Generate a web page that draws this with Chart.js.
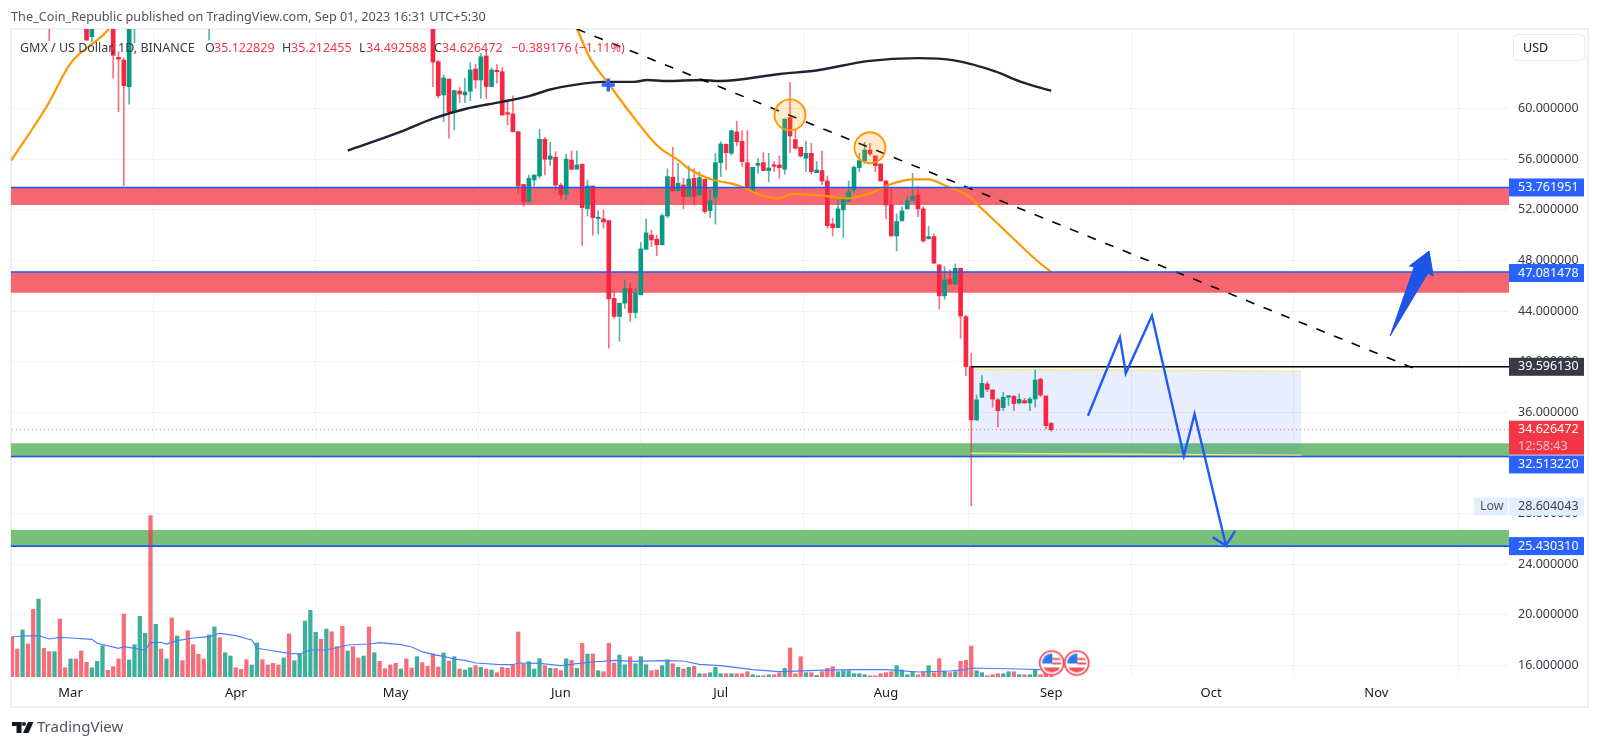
<!DOCTYPE html>
<html>
<head>
<meta charset="utf-8">
<title>GMX / US Dollar</title>
<style>
  html, body { margin: 0; padding: 0; background: #fff; overflow: hidden; }
  #wrap { position: absolute; left: 0; top: 0; width: 1600px; height: 747px; }
</style>
<script src="https://cdn.jsdelivr.net/npm/chart.js@4/dist/chart.umd.min.js"></script>
</head>
<body>
<div id="wrap"><canvas id="chart" width="1600" height="747"></canvas></div>
<script>
// x axis is days since Mar 1 2023
const monthDays = [0, 31, 61, 92, 122, 153, 184, 214, 245];
const monthLabels = ["Mar", "Apr", "May", "Jun", "Jul", "Aug", "Sep", "Oct", "Nov"];
const priceTicks = [16, 20, 24, 28, 32, 36, 40, 44, 48, 52, 56, 60];

// candles whose bodies mostly sit above the top of the pane
const earlyDays = [-4, 3, 4, 8, 9, 10, 11, 12, 26];
const earlyOpens = [70, 68, 65.67, 67, 64.04, 63.83, 61.72, 67, 67];
const earlyHighs = [70, 68, 68, 67, 64.5, 64, 69, 69, 69];
const earlyLows = [65.36, 65.4, 65.27, 62.4, 59.75, 53.9, 60.35, 65.2, 65.4];
const earlyCloses = [68, 65.4, 68, 64.2, 63.9, 61.8, 67, 68, 68];

// daily candles from day 68 to day 184
const firstCandleDay = 68;
const opens = [67.5, 63.7, 61.07, 62.33, 59.73, 61.38, 61.07, 61.36, 63.12, 62.25, 64.15, 61.73, 62.96, 62.91, 59.6, 59.57, 58.17, 54.0, 52.65, 54.36, 54.67, 57.57, 55.99, 56.15, 53.94, 53.25, 55.93, 55.2, 55.6, 52.09, 53.88, 51.3, 51.28, 51.15, 45.0, 43.57, 44.62, 45.78, 43.88, 45.28, 48.88, 50.0, 49.67, 49.23, 51.51, 54.57, 53.49, 53.96, 53.04, 54.49, 53.17, 54.41, 51.93, 52.99, 55.72, 57.17, 56.46, 58.15, 57.41, 55.72, 53.51, 55.51, 55.72, 55.09, 55.5, 55.54, 55.2, 59.28, 57.54, 56.93, 56.07, 56.46, 54.93, 55.09, 54.28, 50.88, 50.59, 51.99, 52.65, 53.57, 55.33, 55.88, 56.72, 56.25, 55.62, 54.28, 52.38, 49.93, 51.12, 52.07, 52.72, 53.17, 52.07, 49.7, 49.88, 47.65, 45.2, 46.51, 46.12, 47.38, 43.55, 39.61, 35.4, 37.19, 38.24, 37.77, 36.98, 36.37, 37.19, 37.27, 36.74, 36.92, 36.74, 37.05, 38.61, 37.29, 35.12];
const highs = [67.5, 63.8, 62.65, 62.33, 61.46, 61.67, 62.38, 63.62, 63.5, 64.36, 64.6, 63.2, 63.46, 63.25, 60.67, 61.0, 58.17, 54.0, 54.75, 54.75, 58.36, 57.73, 57.33, 56.6, 54.1, 56.38, 56.65, 56.65, 55.6, 54.36, 53.88, 51.93, 52.0, 51.15, 45.54, 44.62, 46.46, 46.2, 45.8, 49.41, 51.28, 50.4, 50.0, 51.67, 55.23, 56.94, 55.67, 54.49, 55.46, 55.23, 55.0, 54.41, 53.57, 56.46, 57.38, 57.2, 58.3, 59.0, 58.25, 58.25, 55.36, 56.07, 56.51, 56.46, 55.8, 56.25, 59.17, 62.07, 58.3, 56.93, 57.43, 57.25, 55.8, 56.65, 54.67, 51.33, 52.78, 52.91, 54.28, 55.46, 56.46, 57.33, 57.25, 56.25, 55.62, 54.28, 53.78, 51.67, 52.25, 53.09, 54.88, 53.83, 52.25, 50.67, 50.09, 47.65, 47.51, 47.25, 47.72, 47.38, 43.69, 40.66, 37.37, 38.9, 38.42, 37.77, 37.1, 37.58, 37.32, 37.32, 37.45, 37.1, 37.19, 39.34, 38.71, 37.29, 35.21];
const lows = [61.73, 60.8, 58.96, 57.65, 58.3, 60.46, 60.46, 60.62, 61.6, 60.8, 60.8, 61.7, 62.0, 59.45, 58.7, 58.15, 53.3, 52.3, 52.6, 53.88, 54.49, 54.75, 55.49, 53.57, 52.86, 52.78, 55.15, 55.2, 49.17, 51.5, 50.0, 50.1, 50.54, 41.07, 43.44, 41.6, 44.22, 43.17, 43.44, 45.28, 48.88, 49.1, 48.38, 49.23, 51.38, 53.49, 53.49, 52.07, 53.04, 52.38, 53.17, 51.72, 51.38, 50.86, 54.62, 55.15, 56.33, 57.04, 55.41, 53.78, 53.43, 54.88, 55.09, 54.22, 55.0, 54.49, 54.8, 56.51, 56.78, 56.15, 55.01, 54.83, 54.93, 53.96, 50.54, 49.93, 50.59, 49.8, 52.65, 53.36, 55.0, 55.67, 56.28, 55.0, 54.28, 51.28, 49.93, 48.75, 51.12, 52.07, 52.72, 51.46, 49.43, 49.7, 47.78, 44.14, 44.93, 46.14, 46.12, 41.84, 38.9, 28.6, 35.35, 37.19, 37.63, 36.4, 34.82, 36.13, 36.53, 36.13, 36.66, 36.71, 36.13, 36.4, 37.24, 34.69, 34.49];
const closes = [63.67, 61.0, 62.41, 59.73, 61.41, 61.15, 61.3, 63.04, 62.25, 64.09, 61.73, 63.04, 62.9, 59.49, 59.55, 58.17, 53.88, 52.65, 54.49, 54.75, 57.57, 55.99, 56.25, 53.96, 53.17, 56.0, 55.2, 55.54, 52.17, 53.88, 51.38, 51.33, 51.04, 44.96, 43.57, 44.62, 45.78, 43.88, 45.46, 48.91, 50.17, 49.62, 49.23, 51.54, 54.62, 53.49, 54.1, 53.04, 54.43, 53.04, 54.54, 51.86, 52.72, 55.72, 57.2, 56.51, 58.25, 57.38, 55.8, 53.78, 55.36, 55.67, 55.09, 55.3, 55.43, 55.33, 59.17, 57.83, 56.86, 56.25, 56.46, 55.01, 55.15, 54.28, 50.75, 50.59, 52.07, 52.91, 53.43, 55.36, 55.88, 56.72, 56.41, 55.49, 54.28, 52.38, 49.93, 51.07, 51.91, 52.72, 53.04, 52.07, 49.54, 49.88, 47.78, 45.2, 46.46, 46.14, 47.38, 43.6, 39.61, 35.4, 36.98, 38.29, 37.82, 37.05, 36.13, 37.19, 37.27, 36.69, 37.03, 36.74, 37.05, 38.55, 37.37, 34.95, 34.63];

// volume from day -11 to day 184, values are in pane units
const firstVolumeDay = -11;
const volumes = [40, 28, 47, 33, 67.7, 78, 28.7, 25.3, 25.3, 58, 9.3, 18, 18, 26, 14.7, 9.3, 15.7, 31.3, 6.7, 10.3, 18, 63, 17, 32.3, 60.7, 43.7, 161.3, 52.7, 28, 18, 59, 41, 16.3, 46.3, 32.3, 22.7, 18, 42, 50, 39.3, 24.3, 21, 9.3, 7.7, 17.3, 12, 34, 17.3, 12, 13.7, 12, 19, 43, 16.3, 23.3, 56, 66.7, 44.7, 37.7, 48, 45.3, 30.3, 50.7, 26, 30.3, 19, 21, 50, 24.3, 15.7, 8.3, 12, 13.7, 8, 18, 9, 20.3, 14.3, 10.7, 23.3, 10, 24, 16, 20.3, 8, 7, 9.3, 11.3, 9.7, 8, 7, 4.3, 9.7, 8.7, 11.7, 45, 12.7, 15.3, 8, 18.3, 11.3, 8.7, 8.7, 6.3, 18.3, 16.7, 8.7, 33.7, 23, 23, 6.3, 5.3, 33.7, 14, 22, 12.3, 20.3, 13.3, 20.3, 12.3, 6.3, 7, 11.3, 17.3, 13.3, 9.7, 8, 9.7, 10.7, 3.3, 3.3, 4.3, 9.7, 3.3, 3.3, 3.3, 3.3, 3.3, 5.3, 2.3, 1.3, 1.3, 2.3, 2.3, 4.3, 8.7, 29, 3.3, 20.3, 4.3, 4.3, 1.7, 5.3, 8.7, 10.3, 5.3, 6.3, 6.3, 3.3, 3.3, 2.3, 1.3, 1.3, 3.3, 4.3, 5.3, 11.3, 7, 2.3, 5.3, 2.3, 5.3, 11.3, 4.3, 18.3, 6, 4.3, 5.3, 15.7, 16.7, 31, 6.3, 4.3, 1.3, 2.3, 3.3, 3.3, 5.3, 5.3, 2.3, 2.3, 2.3, 7.3, 2.3, 4.3, 1.3];
// up/down of the volume bars before the first visible candle
const earlyVolumeSides = "rrgrrgrrgrr" + "grrrgggrrr" + "rggggrgrgr" + "grrrrrggrg" + "grrrggrrrr" + "grgggggrgr" + "rrgrrgrgrr" + "rrgrrgrr";

const volumeMaDays = [-11, -9, -6, -4, -2, 0, 4, 5, 9, 10, 14, 15, 17, 18, 20, 23, 26, 28, 31, 34, 35, 37, 41, 43, 45, 48, 52, 56, 58, 62, 64, 66, 68, 70, 72, 74, 76, 80, 83, 84, 88, 92, 95, 98, 102, 106, 111, 115, 118, 122, 128, 133, 140, 147, 153, 159, 165, 168, 169, 178, 182];
const volumeMa = [40, 41, 41.3, 38, 39.7, 39, 37.7, 33.7, 28.7, 30.3, 27, 34.3, 34.7, 33, 36.3, 39, 40.3, 43.7, 41.3, 37, 28.7, 27, 23.7, 23, 27, 27, 32, 33, 34.3, 32.3, 30, 25.3, 22.3, 20.7, 18, 16.7, 14, 12.7, 12.3, 14, 13.7, 11.3, 13.3, 15, 16.7, 15.7, 16.3, 16, 12.7, 11.3, 7.3, 5.3, 6.7, 7.3, 7.3, 5, 6, 7.3, 9, 8, 7.3];

// moving averages, null where the line leaves the top of the pane
const orangeDays = [-11.17, -4.5, 0, 7, 9, 50, 95, 97.5, 100.9, 104.4, 110, 114.4, 115.8, 120.6, 123.8, 126.2, 129.4, 132.8, 135.6, 141.2, 145.7, 150, 154.4, 158, 161, 164.5, 168.2, 170.7, 178.2, 181.2, 184];
const orangeMa = [55.88, 60.14, 63.57, 66.2, 67.5, null, 66.3, 63.96, 61.99, 60.0, 57.1, 55.8, 55.3, 54.35, 54.09, 53.77, 53.17, 52.9, 53.25, 53.11, 52.9, 53.3, 54.09, 54.4, 54.4, 53.83, 53.17, 52.2, 49.2, 48.03, 47.08];
const darkDays = [52, 62, 68, 74.4, 80.6, 86.2, 90, 94.3, 99.9, 105.6, 108.2, 111.9, 118.1, 121.9, 133.1, 139.9, 149.5, 159, 165.8, 173.5, 178.2, 184];
const darkMa = [56.67, 58.17, 59.2, 60, 60.5, 61, 61.5, 61.85, 62.1, 62.1, 62.25, 62.17, 62.25, 62.17, 62.73, 63, 63.74, 63.98, 63.8, 62.93, 62.12, 61.4];

// horizontal levels and zones
const zoneTops = [53.76, 47.08, 33.56, 26.7];
const zoneBottoms = [52.38, 45.45, 32.45, 25.37];
const zoneColors = ["#f76571", "#f76571", "#78c07a", "#78c07a"];
const levelValues = [53.761951, 47.081478, 32.51322, 25.43031];

const resistanceDays = [169, 270];
const resistanceValues = [39.59613, 39.59613];
const lastPrice = 34.626472;

const trendDays = [95, 251.9];
const trendValues = [66.28, 39.5];

const boxDays = [169, 230.9, 230.9, 169, 169];
const boxValues = [39.4, 39.24, 32.6, 32.76, 39.4];
const boxTopDays = [169, 230.9];
const boxTopValues = [39.4, 39.24];
const boxBottomDays = [169, 230.9];
const boxBottomValues = [32.76, 32.6];

const pathDays = [190.9, 196.9, 198, 202.9, 208.9, 210.9, 216.8, 214.3, 216.8, 218.5];
const pathValues = [35.73, 41.93, 39.08, 43.63, 32.55, 35.87, 25.47, 26.13, 25.47, 26.63];
const arrowDays = [247.6, 252.1, 251.2, 254.9, 255.7, 254.7, 247.6];
const arrowValues = [42.03, 47.48, 47.56, 48.74, 46.77, 47.0, 42.03];

const circleDays = [135, 150];
const circleValues = [59.49, 56.9];
const crossDays = [100.9];
const crossValues = [61.86];
const flagDays = [184.1, 188.8];
const flagVolumes = [14, 14];

// price tags on the right scale
const tagTexts = ["53.761951", "47.081478", "39.596130", "32.513220", "25.430310"];
const tagValues = [53.761951, 47.081478, 39.59613, 32.51322, 25.43031];
const tagShifts = [0, 1, 0, 8, 0];
const tagColors = ["#2962ff", "#2962ff", "#363a45", "#2962ff", "#2962ff"];

const legendParts = [
  ["GMX / US Dollar, 1D, BINANCE", 20, "#363a45"],
  ["O", 205, "#363a45"], ["35.122829", 214, "#f23645"],
  ["H", 282, "#363a45"], ["35.212455", 291, "#f23645"],
  ["L", 359, "#363a45"], ["34.492588", 366, "#f23645"],
  ["C", 434, "#363a45"], ["34.626472", 442, "#f23645"],
  ["\u22120.389176 (\u22121.11%)", 511, "#f23645"],
];

const UP = "#089981";
const DOWN = "#f7253f";
const uiFont = '"Noto Sans", sans-serif';

const toPoints = (xs, ys) => xs.map((x, i) => ({ x, y: ys[i] }));

const candleDays = [...earlyDays, ...opens.map((_, i) => firstCandleDay + i)];
const allOpens = [...earlyOpens, ...opens];
const allCloses = [...earlyCloses, ...closes];
const allHighs = [...earlyHighs, ...highs];
const allLows = [...earlyLows, ...lows];
const candleColors = allOpens.map((o, i) => (allCloses[i] >= o ? UP : DOWN));
const wickColors = allOpens.map((o, i) => (allCloses[i] >= o ? "rgba(8,153,129,0.7)" : "rgba(242,37,63,0.65)"));

const volumeColors = volumes.map((_, i) => {
  const day = firstVolumeDay + i;
  const up = day < firstCandleDay ? earlyVolumeSides[i] === "g" : closes[day - firstCandleDay] >= opens[day - firstCandleDay];
  return up ? "rgba(8,153,129,0.78)" : "rgba(242,54,69,0.72)";
});

const makeFlag = () => {
  const c = document.createElement("canvas");
  c.width = 27;
  c.height = 27;
  const g = c.getContext("2d");
  g.beginPath();
  g.arc(13.5, 13.5, 12, 0, Math.PI * 2);
  g.fillStyle = "#fff";
  g.fill();
  g.lineWidth = 1.6;
  g.strokeStyle = "#f23645";
  g.stroke();
  g.save();
  g.beginPath();
  g.arc(13.5, 13.5, 9.5, 0, Math.PI * 2);
  g.clip();
  g.fillStyle = "#f7525f";
  g.fillRect(3, 18, 21, 6);
  g.fillRect(14, 13, 12, 2);
  g.fillRect(14, 8.5, 12, 2);
  g.fillStyle = "#2e79ef";
  g.fillRect(3, 3, 11, 11);
  g.restore();
  return c;
};
const flagImage = makeFlag();

const zoneDatasets = zoneTops.map((top, i) => ({
  type: "line",
  data: toPoints([-20, 280], [top, top]),
  borderWidth: 0,
  pointRadius: 0,
  backgroundColor: zoneColors[i],
  fill: { value: zoneBottoms[i] },
  order: 20,
}));

const levelDatasets = levelValues.map((v) => ({
  type: "line",
  data: toPoints([-20, 280], [v, v]),
  borderColor: "#1f58f0",
  borderWidth: 1.6,
  pointRadius: 0,
  order: 2,
}));

const lineSet = (xs, ys, color, width, extra) => ({
  type: "line",
  data: toPoints(xs, ys),
  borderColor: color,
  borderWidth: width,
  pointRadius: 0,
  fill: false,
  ...extra,
});

const overlay = {
  id: "overlay",
  beforeDraw(chart) {
    const { ctx } = chart;
    ctx.save();
    ctx.fillStyle = "#fff";
    ctx.fillRect(0, 0, chart.width, chart.height);
    ctx.strokeStyle = "#eef0f6";
    ctx.lineWidth = 2;
    ctx.strokeRect(11, 29, 1577, 678);
    ctx.restore();
  },
  afterDraw(chart) {
    const { ctx } = chart;
    const y = chart.scales.y;
    const left = 1509;
    const width = 75;
    ctx.save();
    ctx.textBaseline = "middle";

    ctx.fillStyle = "#50535e";
    ctx.font = "12.7px " + uiFont;
    ctx.textAlign = "left";
    ctx.fillText("The_Coin_Republic published on TradingView.com, Sep 01, 2023 16:31 UTC+5:30", 11, 17);

    ctx.font = "12.5px " + uiFont;
    legendParts.forEach(([text, x, color]) => {
      ctx.fillStyle = color;
      ctx.fillText(text, x, 48);
    });

    // USD button
    ctx.strokeStyle = "#e8eaf1";
    ctx.lineWidth = 1;
    ctx.beginPath();
    ctx.roundRect(1513.5, 34.5, 71, 26, 4);
    ctx.fillStyle = "#fff";
    ctx.fill();
    ctx.stroke();
    ctx.fillStyle = "#131722";
    ctx.fillText("USD", 1523, 48);

    // tags
    ctx.font = "12.5px " + uiFont;
    tagTexts.forEach((text, i) => {
      const py = y.getPixelForValue(tagValues[i]) + tagShifts[i];
      ctx.fillStyle = tagColors[i];
      ctx.fillRect(left, py - 9, width, 18);
      ctx.fillStyle = "#fff";
      ctx.fillText(text, 1518, py);
    });

    // last price tag with countdown
    const last = y.getPixelForValue(lastPrice);
    ctx.fillStyle = "#f23645";
    ctx.fillRect(left, last - 9, width, 34);
    ctx.fillStyle = "#fff";
    ctx.fillText("34.626472", 1518, last);
    ctx.fillStyle = "#fbc0c5";
    ctx.fillText("12:58:43", 1518, last + 16.5);

    // low marker
    const low = y.getPixelForValue(28.604043) + 0.6;
    ctx.fillStyle = "#e3effd";
    ctx.fillRect(1474, low - 9, 34, 18);
    ctx.fillRect(left, low - 9, width, 18);
    ctx.fillStyle = "#50535e";
    ctx.fillText("Low", 1480, low);
    ctx.fillStyle = "#3b3f4a";
    ctx.fillText("28.604043", 1518, low);

    // TradingView logo
    ctx.fillStyle = "#131722";
    ctx.fillRect(12, 722, 9.5, 4);
    ctx.fillRect(16.5, 722, 5, 11);
    ctx.beginPath();
    ctx.arc(24, 724, 2, 0, Math.PI * 2);
    ctx.fill();
    ctx.beginPath();
    ctx.moveTo(28, 722);
    ctx.lineTo(33.5, 722);
    ctx.lineTo(28.5, 733);
    ctx.lineTo(23, 733);
    ctx.fill();
    ctx.fillStyle = "#50535e";
    ctx.font = "15px " + uiFont;
    ctx.fillText("TradingView", 37, 728);
    ctx.restore();
  },
};

new Chart(document.getElementById("chart").getContext("2d"), {
  data: {
    datasets: [
      ...zoneDatasets,
      {
        type: "bar",
        data: toPoints(volumes.map((_, i) => firstVolumeDay + i), volumes),
        yAxisID: "y1",
        backgroundColor: volumeColors,
        barThickness: 3.6,
        grouped: false,
        order: 12,
      },
      lineSet(volumeMaDays, volumeMa, "#4c7cff", 1.2, { yAxisID: "y1", order: 11 }),
      {
        ...lineSet(boxDays, boxValues, "rgba(0,0,0,0)", 0, {}),
        backgroundColor: "rgba(41,98,255,0.11)",
        fill: "shape",
        order: 10,
      },
      lineSet(boxTopDays, boxTopValues, "#f5e79a", 1.5, { order: 9 }),
      lineSet(boxBottomDays, boxBottomValues, "#eee27c", 1.5, { order: 3 }),
      {
        type: "bar",
        data: candleDays.map((d, i) => ({ x: d, y: [allLows[i], allHighs[i]] })),
        backgroundColor: wickColors,
        barThickness: 1,
        grouped: false,
        order: 8,
      },
      {
        type: "bar",
        data: candleDays.map((d, i) => ({
          x: d,
          y: [Math.min(allOpens[i], allCloses[i]), Math.max(allOpens[i], allCloses[i])],
        })),
        backgroundColor: candleColors,
        barThickness: 4,
        minBarLength: 1.5,
        grouped: false,
        order: 7,
      },
      lineSet(orangeDays, orangeMa, "#ff9800", 2.2, { order: 6, cubicInterpolationMode: "monotone", spanGaps: false }),
      lineSet(darkDays, darkMa, "#1e2233", 2.4, { order: 6, cubicInterpolationMode: "monotone" }),
      lineSet(trendDays, trendValues, "#000", 1.6, { order: 5, borderDash: [9, 10] }),
      ...levelDatasets,
      lineSet(resistanceDays, resistanceValues, "#000", 1.5, { order: 2 }),
      lineSet([-20, 280], [lastPrice, lastPrice], "rgba(242,54,69,0.7)", 1, { order: 2, borderDash: [1, 3] }),
      {
        type: "scatter",
        data: toPoints(circleDays, circleValues),
        pointStyle: "circle",
        pointRadius: 15.5,
        pointBackgroundColor: "rgba(255,152,0,0.2)",
        pointBorderColor: "#ff9800",
        pointBorderWidth: 1.8,
        order: 4,
      },
      {
        type: "scatter",
        data: toPoints(crossDays, crossValues),
        pointStyle: "cross",
        pointRadius: 6.5,
        pointBorderColor: "#2962ff",
        pointBorderWidth: 3.5,
        order: 4,
      },
      lineSet(pathDays, pathValues, "#1f5cf5", 2.4, { order: 1 }),
      {
        ...lineSet(arrowDays, arrowValues, "#1f55e6", 1, {}),
        backgroundColor: "#1f55e6",
        fill: "shape",
        order: 1,
      },
      {
        type: "scatter",
        data: toPoints(flagDays, flagVolumes),
        yAxisID: "y1",
        pointStyle: flagImage,
        order: 1,
      },
    ],
  },
  options: {
    responsive: false,
    animation: false,
    events: [],
    layout: { autoPadding: false, padding: { left: 11, right: 12, top: 29, bottom: 40 } },
    plugins: { legend: { display: false }, tooltip: { enabled: false } },
    scales: {
      x: {
        type: "linear",
        offset: false,
        min: -11.17,
        max: 269.9,
        afterBuildTicks: (axis) => {
          axis.ticks = monthDays.map((value) => ({ value }));
        },
        afterFit: (axis) => {
          axis.height = 30;
          axis.paddingLeft = 0;
          axis.paddingRight = 0;
        },
        ticks: {
          autoSkip: false,
          maxRotation: 0,
          padding: 8,
          color: "#131722",
          font: { family: uiFont, size: 13 },
          callback: (_, i) => monthLabels[i],
        },
        grid: { color: "#f2f3f7", drawTicks: false },
        border: { display: false },
      },
      y: {
        position: "right",
        min: 15.09,
        max: 66.28,
        afterBuildTicks: (axis) => {
          axis.ticks = priceTicks.map((value) => ({ value }));
        },
        afterFit: (axis) => {
          axis.width = 79;
          axis.paddingTop = 0;
          axis.paddingBottom = 0;
        },
        ticks: {
          padding: 9,
          color: "#363a45",
          font: { family: uiFont, size: 12.5 },
          callback: (v) => v.toFixed(6),
        },
        grid: { color: "#f2f3f7", drawTicks: false },
        border: { display: false },
      },
      y1: {
        display: false,
        min: 0,
        max: 648,
      },
    },
  },
  plugins: [overlay],
});
</script>
</body>
</html>
